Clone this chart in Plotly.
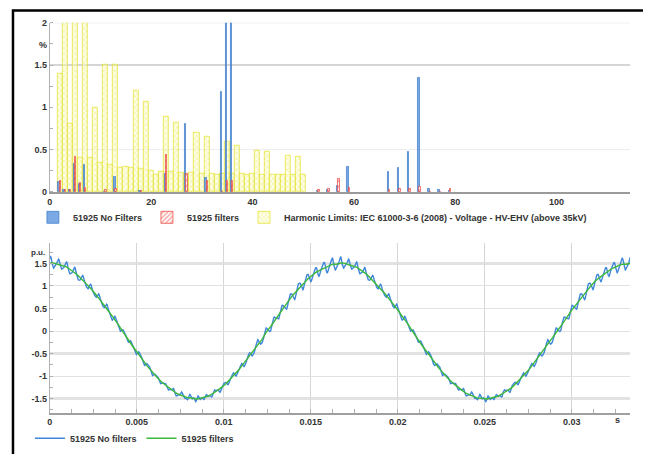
import numpy as np
import plotly.graph_objects as go

# ---------------- data ----------------
# Harmonic spectrum, % of fundamental
harmonic_orders = [2, 3, 4, 5, 6, 7, 11, 13, 18, 23, 27, 31, 34, 35, 36,
                   53, 55, 57, 59, 67, 69, 71, 73, 75, 77, 79]
no_filters_pct = [0.12, 0.03, 0.02, 0.33, 0.10, 0.32, 0.00, 0.18, 0.01, 0.21, 0.81, 0.17, 1.18, 4.8, 2.5,
                  0.01, 0.03, 0.07, 0.30, 0.24, 0.28, 0.47, 1.35, 0.035, 0.02, 0.01]
filters_pct = [0.13, 0.03, 0.02, 0.41, 0.11, 0.05, 0.02, 0.04, 0.01, 0.44, 0.21, 0.13, 0.00, 0.13, 0.13,
               0.02, 0.04, 0.15, 0.05, 0.03, 0.035, 0.04, 0.06, 0.00, 0.00, 0.04]
# estimated phase of each harmonic (degrees, cosine reference)
phase_deg = [90, 90, 90, 90, 90, 90, 90, 90, 90, 90, 90, 90, 90, 0, 0,
             90, 90, 90, 90, 90, 90, 90, 90, 90, 90, 90]

limit_orders = [2, 3, 4, 5, 6, 7, 8, 9, 10, 11, 12, 13, 14, 15, 16, 17, 18, 19, 20, 21, 22, 23, 24, 25, 26,
                27, 28, 29, 30, 31, 32, 33, 34, 35, 36, 37, 38, 39, 40, 41, 42, 43, 44, 45, 46, 47, 48, 49, 50]
limit_pct = [1.4, 2.0, 0.8, 2.0, 0.4, 2.0, 0.4, 1.0, 0.35, 1.5, 0.32, 1.5, 0.29, 0.3, 0.28, 1.2, 0.27, 1.07,
             0.25, 0.2, 0.24, 0.89, 0.24, 0.82, 0.23, 0.2, 0.23, 0.70, 0.22, 0.65, 0.22, 0.2, 0.22, 0.59,
             0.21, 0.55, 0.21, 0.2, 0.21, 0.49, 0.2, 0.47, 0.2, 0.2, 0.2, 0.43, 0.2, 0.41, 0.2]

spectrum_xticks = [0, 20, 40, 60, 80, 100]
spectrum_yticks = [0, 0.5, 1, 1.5, 2]

fundamental_pu = 1.5
fundamental_hz = 60.0
time_end_s = 0.03335
time_ticks = [0, 0.005, 0.01, 0.015, 0.02, 0.025, 0.03]
time_ticktext = ["0", "0.005", "0.01", "0.015", "0.02", "0.025", "0.03"]
wave_yticks = [-1.5, -1, -0.5, 0, 0.5, 1, 1.5]

# ---------------- waveform reconstruction from the spectrum ----------------
t = np.linspace(0.0, time_end_s, 4001)
w = 2 * np.pi * fundamental_hz


def waveform(pcts):
    v = fundamental_pu * np.cos(w * t)
    for h, p, ph in zip(harmonic_orders, pcts, phase_deg):
        v = v + fundamental_pu * p / 100.0 * np.cos(h * w * t - np.deg2rad(ph))
    return v


v_nofilt = waveform(no_filters_pct)
v_filt = waveform(filters_pct)

# page body has an 8px margin: figure sits at (8, 8) in the window
OFF = 8
W, H = 651 - OFF, 454 - OFF


def px(X):
    return (X - OFF) / W


def py(Y):
    return 1 - (Y - OFF) / H


x_dom = [px(47), px(630)]
top_dom = [py(191), py(18)]
bot_dom = [py(416.7), py(243)]

FONT = "Liberation Sans, Arial, sans-serif"
TXT = "#333333"

fig = go.Figure()

fig.add_trace(go.Bar(
    x=limit_orders, y=limit_pct, width=1.0,
    name="Harmonic Limits: IEC 61000-3-6 (2008) - Voltage - HV-EHV (above 35kV)",
    marker=dict(color="rgba(252,252,210,0.5)",
                pattern=dict(shape="x", fgcolor="#e4e44a", size=4, solidity=0.3),
                line=dict(color="rgba(226,226,40,0.7)", width=1)),
    xaxis="x", yaxis="y", legend="legend", legendrank=3))
fig.add_trace(go.Bar(
    x=harmonic_orders, y=no_filters_pct, width=0.28, offset=-0.35,
    name="51925 No Filters",
    marker=dict(color="#7aa9e4", line=dict(color="#3a78c8", width=0.7)),
    xaxis="x", yaxis="y", legend="legend", legendrank=1))
fig.add_trace(go.Bar(
    x=harmonic_orders, y=filters_pct, width=0.28, offset=-0.1,
    name="51925 filters",
    marker=dict(color="white",
                pattern=dict(shape="/", fgcolor="#ee3a32", size=4, solidity=0.4),
                line=dict(color="#ea3b33", width=0.7)),
    xaxis="x", yaxis="y", legend="legend", legendrank=2))

fig.add_trace(go.Scatter(
    x=t, y=v_nofilt, mode="lines", name="51925 No filters",
    line=dict(color="#3f86da", width=1.4), xaxis="x2", yaxis="y2", legend="legend2"))
fig.add_trace(go.Scatter(
    x=t, y=v_filt, mode="lines", name="51925 filters",
    line=dict(color="#3cb83a", width=1.4), xaxis="x2", yaxis="y2", legend="legend2"))

axis_font = dict(family=FONT, size=9, color=TXT, weight="bold")

shapes = []
for val, col, wd in [(0.5, "#ececec", 1), (1.5, "#c9c9c9", 1.5), (2.0, "#e0e0e0", 1)]:
    shapes.append(dict(type="line", xref="x domain", yref="y", x0=0, x1=1, y0=val, y1=val,
                       line=dict(color=col, width=wd), layer="below"))
for val in [1.5, -0.5, -1.5]:
    shapes.append(dict(type="line", xref="x2 domain", yref="y2", x0=0, x1=1, y0=val, y1=val,
                       line=dict(color="#c6c6c6", width=2), layer="below"))
shapes.append(dict(type="rect", xref="paper", yref="paper", x0=px(10), x1=px(645),
                   y0=-0.05, y1=py(5.5), line=dict(color="black", width=2.5)))

fig.update_layout(
    width=W, height=H, autosize=False,
    margin=dict(l=0, r=0, t=0, b=0),
    paper_bgcolor="white", plot_bgcolor="white",
    font=dict(family=FONT, size=9, color=TXT, weight="bold"),
    barmode="overlay", bargap=0,
    xaxis=dict(domain=x_dom, range=[0, 114.5], tickvals=spectrum_xticks,
               showgrid=False, zeroline=False, showline=True, linecolor="#9a9a9a", linewidth=2,
               ticks="", tickfont=axis_font, anchor="y"),
    yaxis=dict(domain=top_dom, range=[0, 2.0], tickvals=spectrum_yticks,
               ticktext=["0", "0.5", "1", "1.5", "2"],
               showgrid=False, zeroline=False, showline=True, linecolor="#b0b0b0", linewidth=1,
               ticks="", tickfont=axis_font, anchor="x",
               minor=dict(dtick=0.25, ticks="inside", ticklen=3, tickcolor="#b0b0b0")),
    xaxis2=dict(domain=x_dom, range=[0, time_end_s], tickvals=time_ticks, ticktext=time_ticktext,
                showgrid=True, gridcolor="#d6d6d6", zeroline=False, showline=True,
                linecolor="#a0a0a0", linewidth=2, ticks="", tickfont=axis_font, anchor="y2",
                minor=dict(dtick=0.00125, ticks="inside", ticklen=4, tickcolor="#b0b0b0")),
    yaxis2=dict(domain=bot_dom, range=[-1.81, 1.96], tickvals=wave_yticks,
                ticktext=["-1.5", "-1", "-0.5", "0", "0.5", "1", "1.5"],
                showgrid=True, gridcolor="#e2e2e2", zeroline=False, showline=True,
                linecolor="#b0b0b0", linewidth=1, ticks="", tickfont=axis_font, anchor="x2",
                minor=dict(dtick=0.25, ticks="inside", ticklen=3, tickcolor="#b0b0b0")),
    legend=dict(orientation="h", x=px(30), xanchor="left", y=py(217), yanchor="middle",
                font=dict(family=FONT, size=9, color=TXT, weight="bold"),
                bgcolor="rgba(0,0,0,0)", traceorder="normal", itemwidth=30),
    legend2=dict(orientation="h", x=px(27), xanchor="left", y=py(443), yanchor="middle",
                 font=dict(family=FONT, size=9, color=TXT, weight="bold"),
                 bgcolor="rgba(0,0,0,0)", itemwidth=30),
    shapes=shapes,
    annotations=[
        dict(text="%", xref="paper", yref="paper", x=px(40), y=py(41), xanchor="center",
             yanchor="middle", showarrow=False,
             font=dict(family=FONT, size=9, color=TXT, weight="bold")),
        dict(text="p.u.", xref="paper", yref="paper", x=px(35.5), y=py(253), xanchor="center",
             yanchor="middle", showarrow=False, font=dict(family=FONT, size=8, color=TXT)),
        dict(text="s", xref="paper", yref="paper", x=px(617.5), y=py(424), xanchor="center",
             yanchor="middle", showarrow=False, font=dict(family=FONT, size=9, color=TXT)),
    ],
)

fig.write_html("out.html")
